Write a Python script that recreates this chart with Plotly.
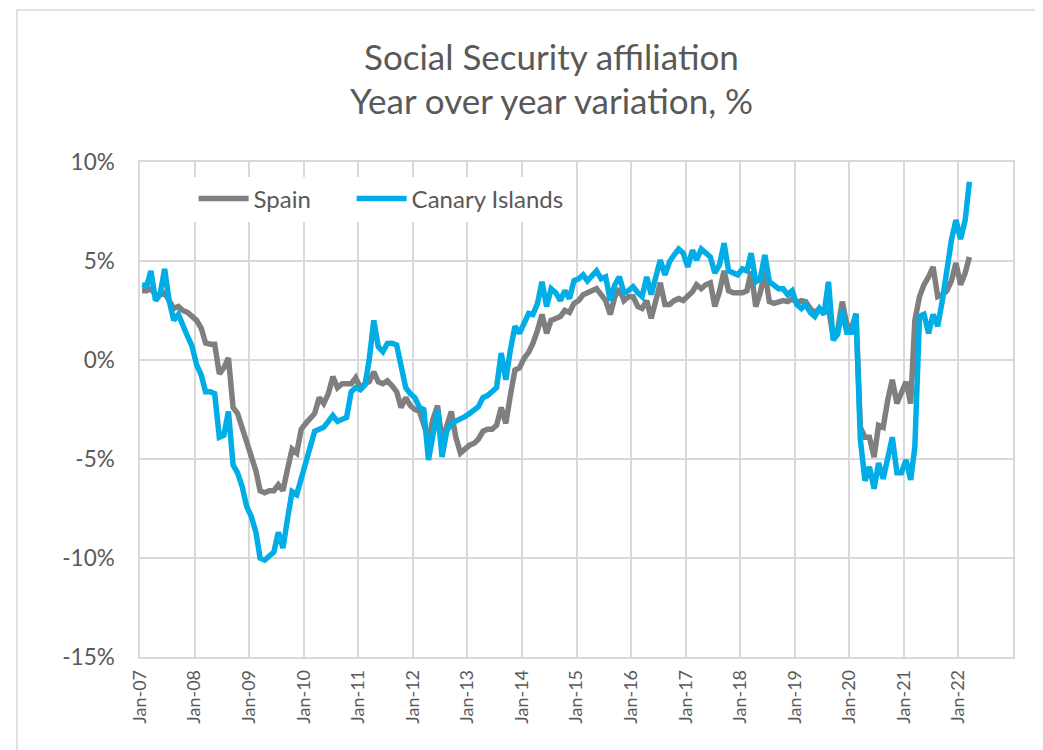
import plotly.graph_objects as go
import datetime as dt

# ---- data (monthly, Jan-2007 .. Mar-2022), year-over-year % ----
start_year, start_month = 2007, 1
spain = [
    3.5, 3.5, 3.6, 3.3, 3.3, 3.4, 3.0, 2.6, 2.7, 2.5, 2.4, 2.2,          # 2007
    2.0, 1.6, 0.86, 0.8, 0.8, -0.7, -0.4, 0.1, -2.4, -2.7, -3.4, -4.2,   # 2008
    -4.9, -5.6, -6.6, -6.7, -6.6, -6.6, -6.3, -6.6, -5.5, -4.5, -4.7, -3.5,  # 2009
    -3.2, -2.9, -2.7, -1.9, -2.2, -1.7, -0.84, -1.4, -1.2, -1.2, -1.2, -0.9, # 2010
    -1.4, -1.2, -1.1, -0.6, -1.1, -1.2, -1.05, -1.3, -1.6, -2.4, -1.9, -2.3, # 2011
    -2.5, -2.6, -3.3, -4.0, -3.0, -2.3, -4.1, -3.3, -2.6, -3.9, -4.7, -4.5,  # 2012
    -4.3, -4.2, -4.0, -3.6, -3.5, -3.5, -3.3, -2.4, -3.2, -1.8, -0.5, -0.4,  # 2013
    0.08, 0.4, 0.84, 1.5, 2.3, 1.35, 2.0, 2.1, 2.2, 2.5, 2.4, 2.86,      # 2014
    3.0, 3.3, 3.4, 3.5, 3.6, 3.3, 3.0, 2.3, 3.2, 3.6, 3.0, 3.2,          # 2015
    3.2, 2.7, 2.6, 3.0, 2.1, 3.0, 3.9, 2.8, 2.8, 3.0, 3.1, 3.0,          # 2016
    3.2, 3.45, 3.8, 3.6, 3.8, 3.9, 2.7, 3.45, 4.5, 3.5, 3.4, 3.4,        # 2017
    3.4, 3.5, 4.46, 2.7, 3.4, 4.46, 2.95, 2.86, 2.9, 3.0, 2.95, 3.1,     # 2018
    2.9, 3.0, 2.95, 2.6, 2.4, 2.6, 2.4, 2.6, 1.2, 1.5, 2.95, 1.8,        # 2019
    1.6, 2.3, -3.4, -3.9, -3.9, -4.9, -3.3, -3.4, -2.0, -1.0, -2.2, -1.6,    # 2020
    -1.1, -2.2, 2.0, 3.2, 3.8, 4.2, 4.7, 3.2, 3.3, 3.5, 4.0, 4.9,        # 2021
    3.8, 4.4, 5.2,                                                       # 2022
]
canary = [
    3.8, 3.75, 4.5, 3.0, 3.3, 4.6, 3.0, 2.0, 2.3, 1.7, 1.2, 0.7,         # 2007
    -0.25, -0.76, -1.6, -1.6, -1.7, -3.9, -3.8, -2.6, -5.3, -5.7, -6.4, -7.4,  # 2008
    -7.9, -8.7, -10.0, -10.1, -9.9, -9.7, -8.7, -9.5, -8.0, -6.65, -6.8, -6.0, # 2009
    -5.4, -4.5, -3.6, -3.5, -3.4, -3.1, -2.8, -3.1, -3.0, -2.9, -1.6, -1.4,    # 2010
    -1.5, -1.26, 0.0, 2.0, 0.67, 0.42, 0.84, 0.85, 0.76, -0.3, -1.4, -1.7,     # 2011
    -1.9, -2.4, -2.5, -5.05, -3.7, -2.5, -4.9, -3.6, -3.2, -3.1, -3.0, -2.86,  # 2012
    -2.7, -2.5, -2.36, -1.9, -1.8, -1.6, -1.4, 0.35, -1.0, 0.5, 1.7, 1.35,     # 2013
    1.9, 2.35, 2.3, 2.85, 3.95, 2.7, 3.6, 3.4, 3.0, 3.5, 3.1, 4.0,       # 2014
    4.1, 4.3, 4.0, 4.3, 4.5, 4.1, 4.2, 3.0, 3.8, 4.2, 3.4, 3.5,          # 2015
    3.7, 3.4, 3.2, 4.2, 3.3, 4.2, 5.05, 4.3, 4.96, 5.3, 5.6, 5.4,        # 2016
    4.7, 5.55, 5.05, 5.6, 5.4, 5.2, 4.4, 4.8, 5.9, 4.5, 4.4, 4.3,        # 2017
    4.6, 4.5, 5.4, 3.95, 4.1, 5.3, 3.95, 3.8, 3.6, 3.6, 3.3, 3.5,        # 2018
    2.8, 2.6, 2.8, 2.4, 2.2, 2.6, 2.3, 3.95, 1.0, 1.3, 2.5, 1.4,         # 2019
    1.4, 2.35, -4.0, -6.1, -5.4, -6.5, -5.2, -6.0, -5.0, -3.9, -5.7, -5.7,     # 2020
    -5.05, -6.06, -4.4, 2.2, 2.3, 1.35, 2.3, 1.7, 3.0, 4.5, 6.06, 7.07,  # 2021
    6.1, 7.07, 9.0,                                                      # 2022
]
series_names = ["Spain", "Canary Islands"]
tick_years = list(range(2007, 2024))
tick_labels = ["Jan-%02d" % (y % 100) for y in range(2007, 2023)] + [""]
y_ticks = [-15, -10, -5, 0, 5, 10]
y_labels = ["-15%", "-10%", "-5%", "0%", "5%", "10%"]

n = len(spain)
dates = []
for i in range(n):
    yy = start_year + (start_month - 1 + i) // 12
    mm = (start_month - 1 + i) % 12 + 1
    dates.append(dt.date(yy, mm, 15))
tick_dates = [dt.date(y, 1, 1) for y in tick_years]

GRID = "#d9d9d9"
TXT = "#595959"
FONT = "Lato"
OFF = 8  # page body margin in the browser

fig = go.Figure()
fig.add_trace(go.Scatter(x=dates, y=spain, name=series_names[0], mode="lines",
                         line=dict(color="#7f7f7f", width=5.5), legend="legend"))
fig.add_trace(go.Scatter(x=dates, y=canary, name=series_names[1], mode="lines",
                         line=dict(color="#00ADE6", width=5.5), legend="legend2"))

xr = [tick_dates[0], tick_dates[-1]]
leg_common = dict(orientation="h", y=(657 - 199) / 495, xanchor="left", yanchor="middle",
                  bgcolor="white", font=dict(size=24, color=TXT, family=FONT),
                  itemwidth=50)
fig.update_layout(
    width=1043, height=750,
    margin=dict(l=140 - OFF, r=1043 - (1013 - OFF), t=162 - OFF, b=750 - (657 - OFF)),
    paper_bgcolor="white", plot_bgcolor="white",
    font=dict(family=FONT, color=TXT),
    showlegend=True,
    legend=dict(x=0.0614, **leg_common),
    legend2=dict(x=0.2424, **leg_common),
    xaxis=dict(type="date", range=xr, tickvals=tick_dates, ticktext=tick_labels,
               tickangle=-90, showgrid=True, gridcolor=GRID, gridwidth=1.5,
               showline=True, linecolor=GRID, linewidth=1.5, mirror=True,
               ticks="", tickfont=dict(size=18, color=TXT), ticklabelstandoff=4,
               zeroline=False),
    xaxis2=dict(type="date", range=xr, overlaying="x", anchor="free", position=0.6,
                tickvals=tick_dates, showticklabels=False, showgrid=False,
                showline=True, linecolor=GRID, linewidth=2.5,
                ticks="outside", ticklen=6, tickwidth=2, tickcolor=GRID),
    yaxis=dict(range=[-15, 10], tickvals=y_ticks, ticktext=y_labels,
               showgrid=True, gridcolor=GRID, gridwidth=1.5,
               showline=True, linecolor=GRID, linewidth=1.5, mirror=True,
               zeroline=False, ticks="", tickfont=dict(size=22.5, color=TXT),
               ticklabelstandoff=19),
)

# chart-area border
fig.add_shape(type="rect", xref="paper", yref="paper",
              x0=(17 - 140) / 873, x1=(1060 - 140) / 873,
              y0=(657 - 770) / 495, y1=(657 - 10) / 495,
              line=dict(color=GRID, width=1.5), layer="below")

# title (two lines)
fig.add_annotation(text="Social Security affiliation", xref="paper", yref="paper",
                   x=(551 - 140) / 873, y=(657 - 56) / 495, xanchor="center", yanchor="middle",
                   showarrow=False, font=dict(size=35, color=TXT, family=FONT))
fig.add_annotation(text="Year over year variation, %", xref="paper", yref="paper",
                   x=(551 - 140) / 873, y=(657 - 100) / 495, xanchor="center", yanchor="middle",
                   showarrow=False, font=dict(size=35, color=TXT, family=FONT))

fig.write_html("out.html")
